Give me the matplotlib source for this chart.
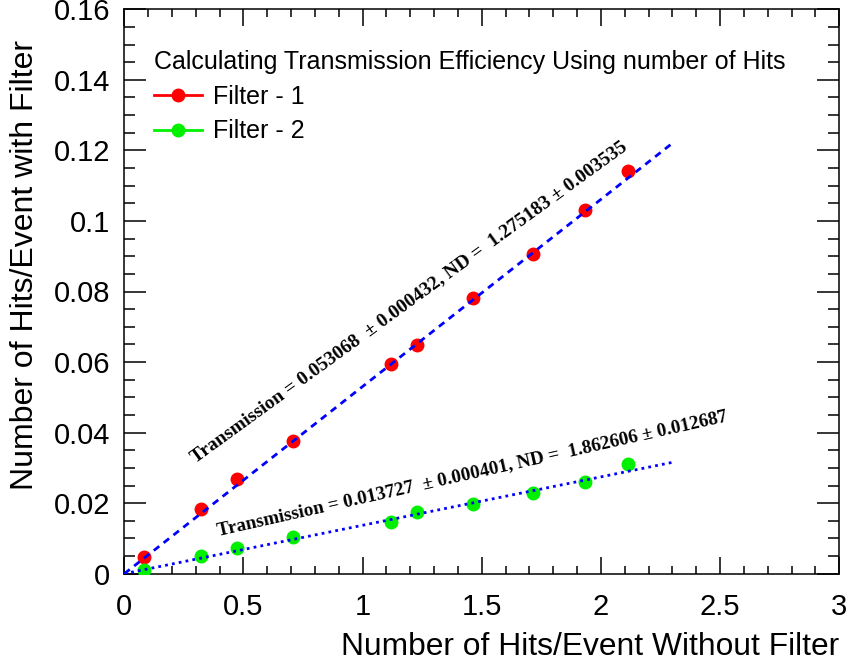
import matplotlib
matplotlib.use("Agg")
import matplotlib.pyplot as plt
import numpy as np
from matplotlib.lines import Line2D

# ---- data ----
x_hits = [0.083, 0.321, 0.473, 0.709, 1.118, 1.227, 1.465, 1.715, 1.935, 2.113]
filter1 = [0.0046, 0.0183, 0.0268, 0.0376, 0.0595, 0.0649, 0.0781, 0.0906, 0.1031, 0.1143]
filter2 = [0.0010, 0.0050, 0.0074, 0.0103, 0.0147, 0.0175, 0.0197, 0.0229, 0.0261, 0.0310]
fit1_T, fit1_Terr, fit1_ND, fit1_NDerr = 0.053068, 0.000432, 1.275183, 0.003535
fit2_T, fit2_Terr, fit2_ND, fit2_NDerr = 0.013727, 0.000401, 1.862606, 0.012687
fit_range = [0.0, 2.3]
legend_title = "Calculating Transmission Efficiency Using number of Hits"
labels = ["Filter - 1", "Filter - 2"]
xlabel = "Number of Hits/Event Without Filter"
ylabel = "Number of Hits/Event with Filter"

plt.rcParams['font.family'] = ['Liberation Sans', 'DejaVu Sans']

RED = '#ff0000'
GREEN = '#00f000'

W, H = 850, 666
fig = plt.figure(figsize=(W / 100, H / 100), dpi=100)
ax = fig.add_axes([124.3 / W, 1 - 573.7 / H, (839.3 - 124.3) / W, (573.7 - 9.3) / H])

xf = np.array(fit_range)
ax.plot(xf, fit1_T * xf, color='#0000ff', lw=2.0, ls=(0, (2.5, 2.0)), zorder=4)
ax.plot(xf, fit2_T * xf, color='#0000ff', lw=2.0, ls=(0, (1.0, 1.5)), zorder=4)

ax.plot(x_hits, filter1, ls='none', marker='o', ms=9, color=RED, mec=RED, zorder=3)
ax.plot(x_hits, filter2, ls='none', marker='o', ms=9, color=GREEN, mec=GREEN, zorder=3)

ax.set_xlim(0, 3)
ax.set_ylim(0, 0.16)
ax.set_xticks(np.arange(0, 3.01, 0.5))
ax.set_xticklabels(['0', '0.5', '1', '1.5', '2', '2.5', '3'])
ax.set_xticks(np.arange(0, 3.01, 0.1), minor=True)
ax.set_yticks(np.arange(0, 0.161, 0.02))
ax.set_yticklabels(['0', '0.02', '0.04', '0.06', '0.08', '0.1', '0.12', '0.14', '0.16'])
ax.set_yticks(np.arange(0, 0.161, 0.005), minor=True)

ax.tick_params(axis='both', which='both', direction='in', top=True, right=True, width=1.1, colors='black')
ax.tick_params(axis='x', which='major', length=12.2, pad=14, labelsize=21)
ax.tick_params(axis='x', which='minor', length=6.1)
ax.tick_params(axis='y', which='major', length=15.8, pad=10, labelsize=21)
ax.tick_params(axis='y', which='minor', length=7.9)
for s in ax.spines.values():
    s.set_linewidth(1.1)

ax.set_xlabel(xlabel, fontsize=22.9, ha='right', x=1.0, labelpad=8)
ax.set_ylabel(ylabel, fontsize=23.0, ha='right', y=1 - 31 / 564.4, labelpad=10)

# legend
lh1 = Line2D([], [], color=RED, lw=2, marker='o', ms=9)
lh2 = Line2D([], [], color=GREEN, lw=2, marker='o', ms=9)
leg = ax.legend([lh1, lh2], labels, title=legend_title, loc='upper left',
                bbox_to_anchor=(154 / W, 1 - 50 / H), bbox_transform=fig.transFigure,
                frameon=False, fontsize=18, title_fontsize=18, handlelength=1.92,
                handletextpad=0.44, labelspacing=0.43, borderaxespad=0, borderpad=0)
leg._legend_box.align = "left"

# fit annotations
serif = ['Liberation Serif', 'DejaVu Serif']
t1 = f"Transmission = {fit1_T:.6f}  \u00b1 {fit1_Terr:.6f}, ND =  {fit1_ND:.6f} \u00b1 {fit1_NDerr:.6f}"
t2 = f"Transmission = {fit2_T:.6f}  \u00b1 {fit2_Terr:.6f}, ND =  {fit2_ND:.6f} \u00b1 {fit2_NDerr:.6f}"
ax.text(0.297, 0.0314, t1, rotation=36, rotation_mode='anchor', ha='left', va='baseline',
        family=serif, weight='bold', fontsize=14)
ax.text(0.394, 0.011, t2, rotation=12.7, rotation_mode='anchor', ha='left', va='baseline',
        family=serif, weight='bold', fontsize=13.7)

fig.savefig('out.png', dpi=100)
